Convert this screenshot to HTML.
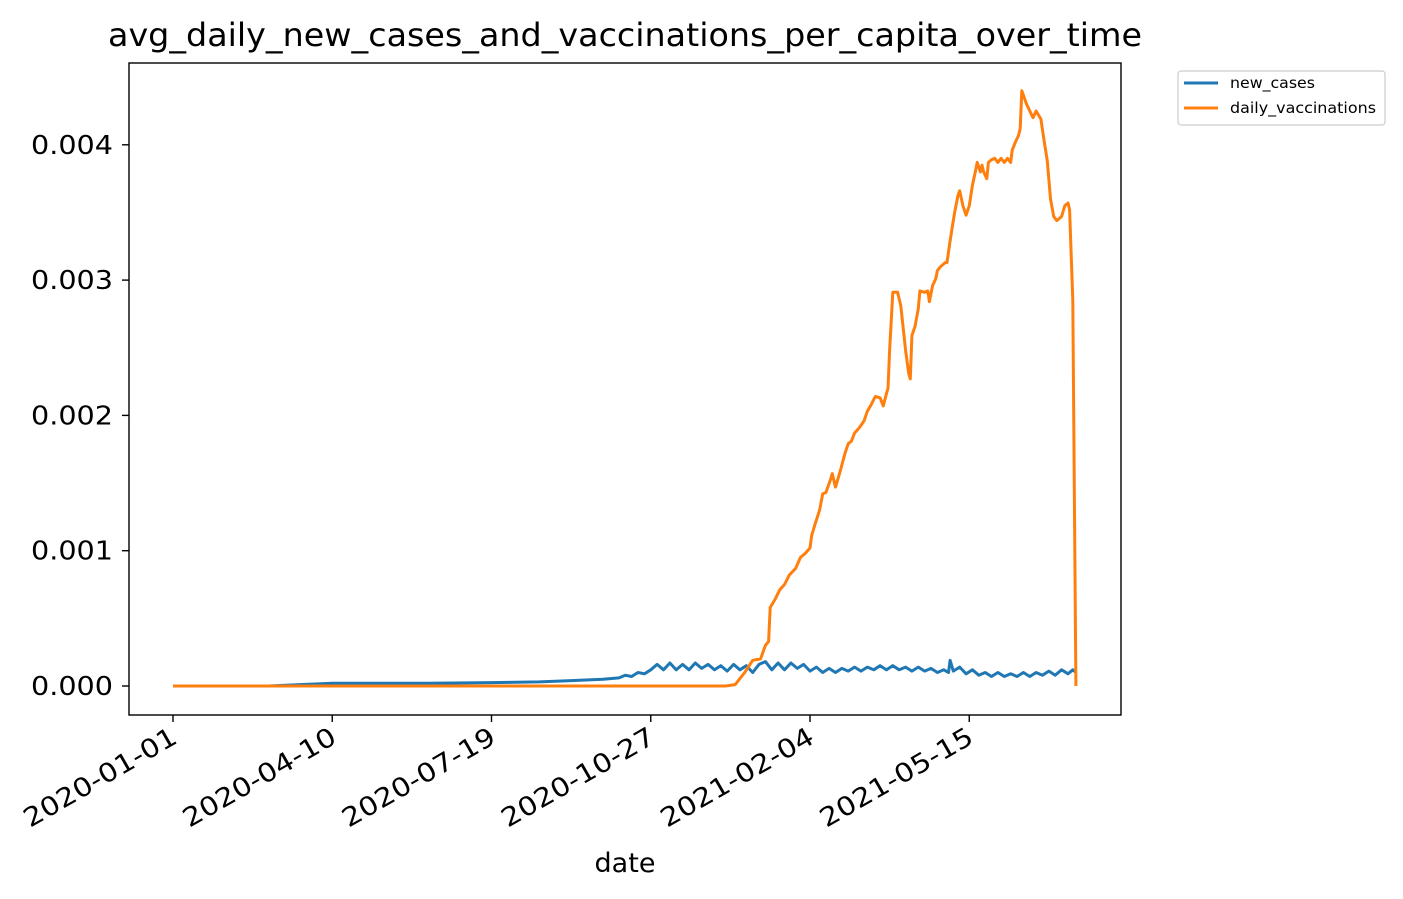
<!DOCTYPE html>
<html><head><meta charset="utf-8"><style>
html,body{margin:0;padding:0;background:#fff;}
svg{display:block;font-family:"DejaVu Sans","Liberation Sans",sans-serif;}
</style></head><body>
<svg id="chart" width="1403" height="899" viewBox="0 0 1403 899" xmlns="http://www.w3.org/2000/svg">
<rect width="1403" height="899" fill="#fff"/>
<text x="625" y="46" font-size="32" text-anchor="middle" textLength="1034" lengthAdjust="spacingAndGlyphs">avg_daily_new_cases_and_vaccinations_per_capita_over_time</text>
<g id="plot"></g>
<rect x="129" y="63" width="992" height="652" fill="none" stroke="#000" stroke-width="1.4"/>
<text x="625" y="872" font-size="27" text-anchor="middle">date</text>
<g>
<rect x="1178" y="71" width="207" height="54" rx="3" fill="#fff" stroke="#ccc" stroke-width="1.2"/>
<line x1="1184" y1="83" x2="1218" y2="83" stroke="#1f77b4" stroke-width="3"/>
<text x="1230" y="88" font-size="15" textLength="85" lengthAdjust="spacingAndGlyphs">new_cases</text>
<line x1="1184" y1="108" x2="1218" y2="108" stroke="#ff7f0e" stroke-width="3"/>
<text x="1230" y="113" font-size="15" textLength="146" lengthAdjust="spacingAndGlyphs">daily_vaccinations</text>
</g>
</svg>
<script>
const yTicks=[0,0.001,0.002,0.003,0.004];
const yTickLabels=["0.000","0.001","0.002","0.003","0.004"];
const xTickDays=[0,100,200,300,400,500];
const xTickLabels=["2020-01-01","2020-04-10","2020-07-19","2020-10-27","2021-02-04","2021-05-15"];
const vaccDays=[0,347,353,359,364,369,372,374,375,378,381,384,387,391,394,397,400,401,403,406,408,410,413,414,416,419,422,424,426,428,431,434,436,438,441,444,446,448,449,450,452,455,457,460,462,463,464,466,468,469,472,474,475,477,479,480,482,485,486,488,490,491,493,494,496,498,500,502,504,505,507,508,509,511,512,514,516,518,520,522,524,526,527,529,531,532,533,536,538,540,542,545,547,549,550,551,553,555,558,560,562,563,565,567];
const vaccVals=[0,0,0.00001,0.0001,0.00019,0.0002,0.0003,0.00033,0.00058,0.00064,0.00071,0.00075,0.00082,0.00087,0.00095,0.00098,0.00102,0.00111,0.00119,0.0013,0.00142,0.00143,0.00153,0.00157,0.00147,0.00159,0.00172,0.00179,0.00181,0.00187,0.00191,0.00196,0.00203,0.00207,0.00214,0.00213,0.00207,0.00216,0.0022,0.00248,0.00291,0.00291,0.00281,0.00248,0.00231,0.00227,0.00259,0.00266,0.00279,0.00292,0.00291,0.00292,0.00284,0.00296,0.00301,0.00307,0.0031,0.00313,0.00313,0.00329,0.00344,0.00351,0.00363,0.00366,0.00355,0.00348,0.00355,0.0037,0.00381,0.00387,0.0038,0.00385,0.0038,0.00375,0.00387,0.00389,0.0039,0.00387,0.0039,0.00387,0.0039,0.00387,0.00396,0.00402,0.00407,0.00412,0.0044,0.0043,0.00425,0.0042,0.00425,0.00419,0.00403,0.00388,0.00374,0.0036,0.00347,0.00344,0.00347,0.00355,0.00357,0.00352,0.00285,0];
const caseDays=[0,60,80,100,130,160,200,230,250,270,280,284,288,292,296,300,304,308,312,316,320,324,328,332,336,340,344,348,352,356,360,364,368,372,376,380,384,388,392,396,400,404,408,412,416,420,424,428,432,436,440,444,448,452,456,460,464,468,472,476,480,484,487,488,490,494,498,502,506,510,514,518,522,526,530,534,538,542,546,550,554,558,562,565,567];
const caseVals=[0,0,0.00001,0.00002,0.00002,0.00002,0.000025,0.00003,0.00004,0.00005,0.00006,0.00008,0.00007,0.0001,0.00009,0.00012,0.00016,0.00012,0.00017,0.00012,0.00016,0.00012,0.00017,0.00013,0.00016,0.00012,0.00015,0.00011,0.00016,0.00012,0.00015,0.0001,0.00016,0.00018,0.00012,0.00017,0.00012,0.00017,0.00013,0.00016,0.00011,0.00014,0.0001,0.00013,0.0001,0.00013,0.00011,0.00014,0.00011,0.00014,0.00012,0.00015,0.00012,0.00015,0.00012,0.00014,0.00011,0.00014,0.00011,0.00013,0.0001,0.00012,0.0001,0.00019,0.00011,0.00014,0.00009,0.00012,0.00008,0.0001,0.00007,0.0001,0.00007,0.00009,0.00007,0.0001,0.00007,0.0001,0.00008,0.00011,0.00008,0.00012,0.00009,0.00012,0.0001];
const NS="http://www.w3.org/2000/svg";
const plot=document.getElementById('plot');
function xs(d){return 173+d*1.5925;}
function ys(v){return 686-v*135300;}
function mk(tag,attrs){const e=document.createElementNS(NS,tag);for(const k in attrs)e.setAttribute(k,attrs[k]);return e;}
yTicks.forEach((t,i)=>{
  const l=mk('line',{x1:122,x2:129,y1:ys(t),y2:ys(t),stroke:'#000','stroke-width':1.4});
  
  
  plot.appendChild(l);
  const tx=mk('text',{x:113,y:ys(t)+9,'font-size':26,'text-anchor':'end',textLength:82,lengthAdjust:'spacingAndGlyphs'});
  
  
  tx.textContent=yTickLabels[i];plot.appendChild(tx);
});
xTickDays.forEach((d,i)=>{
  const x=xs(d);
  const l=mk('line',{x1:x,x2:x,y1:715,y2:722,stroke:'#000','stroke-width':1.4});
  
  
  plot.appendChild(l);
  const tx=mk('text',{x:x+6,y:742,'font-size':26,'text-anchor':'end',textLength:172,lengthAdjust:'spacingAndGlyphs',transform:`rotate(-30 ${x+6} 742)`});
  
  
  tx.textContent=xTickLabels[i];plot.appendChild(tx);
});
function line(days,vals,color,name){
  const pts=days.map((d,i)=>xs(d).toFixed(1)+','+ys(vals[i]).toFixed(1)).join(' ');
  const p=mk('polyline',{points:pts,fill:'none',stroke:color,'stroke-width':3,'stroke-linejoin':'round'});
  
  
  plot.appendChild(p);
}
line(caseDays,caseVals,'#1f77b4','new-cases-line');
line(vaccDays,vaccVals,'#ff7f0e','daily-vaccinations-line');
</script>
</body></html>
